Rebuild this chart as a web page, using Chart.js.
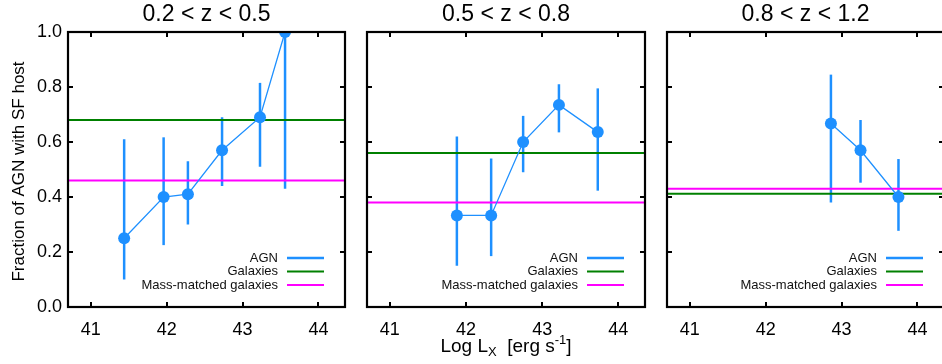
<!DOCTYPE html>
<html>
<head>
<meta charset="utf-8">
<script src="https://cdn.jsdelivr.net/npm/chart.js@4.4.1/dist/chart.umd.min.js"></script>
<style>
  html, body { margin: 0; padding: 0; background: #fff; overflow: hidden; }
  #wrap { position: relative; width: 942px; height: 364px; overflow: hidden; }
  canvas { position: absolute; top: 0; }
</style>
</head>
<body>
<div id="wrap">
  <canvas id="p1"></canvas>
  <canvas id="p2"></canvas>
  <canvas id="p3"></canvas>
</div>
<script>
const panelTitles = ['0.2 < z < 0.5', '0.5 < z < 0.8', '0.8 < z < 1.2'];
const legendLabels = ['AGN', 'Galaxies', 'Mass-matched galaxies'];
const yTitle = 'Fraction of AGN with SF host';
const xTicks = [41, 42, 43, 44];
const yTicks = [0.0, 0.2, 0.4, 0.6, 0.8, 1.0];
const xRange = [40.7, 44.35];
const yRange = [0, 1];

// 0.2 < z < 0.5
const lx1 = [41.44, 41.96, 42.28, 42.73, 43.23, 43.56];
const agn1 = [0.25, 0.40, 0.41, 0.57, 0.69, 1.0];
const lo1 = [0.10, 0.225, 0.30, 0.44, 0.51, 0.43];
const hi1 = [0.61, 0.617, 0.53, 0.69, 0.815, 1.0];
const gal1 = 0.68;
const mass1 = 0.46;

// 0.5 < z < 0.8
const lx2 = [41.88, 42.33, 42.75, 43.22, 43.73];
const agn2 = [0.333, 0.333, 0.60, 0.735, 0.636];
const lo2 = [0.15, 0.185, 0.49, 0.635, 0.423];
const hi2 = [0.62, 0.54, 0.695, 0.81, 0.795];
const gal2 = 0.56;
const mass2 = 0.38;

// 0.8 < z < 1.2
const lx3 = [42.86, 43.25, 43.75];
const agn3 = [0.667, 0.57, 0.40];
const lo3 = [0.38, 0.452, 0.277];
const hi3 = [0.845, 0.68, 0.538];
const gal3 = 0.412;
const mass3 = 0.43;

const agnColor = 'rgb(30,144,255)';
const galColor = 'rgb(0,128,0)';
const massColor = 'rgb(255,0,255)';
const FONT = '"Liberation Sans", Arial, Helvetica, sans-serif';

function panelPlugin(p) {
    return {
        id: 'panel' + p.idx,
        beforeDatasetsDraw(chart) {
            // error bars
            const {ctx, chartArea: a, scales: {x, y}} = chart;
            ctx.save();
            ctx.beginPath();
            ctx.rect(a.left, a.top, a.right - a.left, a.bottom - a.top);
            ctx.clip();
            ctx.strokeStyle = agnColor;
            ctx.lineWidth = 2.5;
            p.lx.forEach((v, i) => {
                const px = x.getPixelForValue(v);
                ctx.beginPath();
                ctx.moveTo(px, y.getPixelForValue(p.lo[i]));
                ctx.lineTo(px, y.getPixelForValue(p.hi[i]));
                ctx.stroke();
            });
            ctx.restore();
        },
        afterDraw(chart) {
            const {ctx, chartArea: a, scales: {x, y}} = chart;
            ctx.save();
            // frame
            ctx.strokeStyle = '#000';
            ctx.lineWidth = 2.2;
            ctx.strokeRect(a.left, a.top, a.right - a.left, a.bottom - a.top);
            // inward ticks on all four sides
            const tl = 5;
            ctx.lineWidth = 2;
            ctx.beginPath();
            xTicks.forEach(v => {
                const px = Math.round(x.getPixelForValue(v));
                ctx.moveTo(px, a.bottom); ctx.lineTo(px, a.bottom - tl);
                ctx.moveTo(px, a.top); ctx.lineTo(px, a.top + tl);
            });
            yTicks.forEach(v => {
                const py = Math.round(y.getPixelForValue(v));
                ctx.moveTo(a.left, py); ctx.lineTo(a.left + tl, py);
                ctx.moveTo(a.right, py); ctx.lineTo(a.right - tl, py);
            });
            ctx.stroke();

            // panel title
            ctx.fillStyle = '#000';
            ctx.font = '23px ' + FONT;
            ctx.textAlign = 'center';
            ctx.textBaseline = 'middle';
            ctx.fillText(p.title, (a.left + a.right) / 2, 15);

            // legend
            const colors = [agnColor, galColor, massColor];
            const widths = [2.5, 2, 2];
            ctx.font = '13px ' + FONT;
            ctx.textAlign = 'right';
            legendLabels.forEach((lab, i) => {
                const ly = a.bottom - 49 + i * 13.5;
                ctx.fillStyle = '#111';
                ctx.fillText(lab, a.right - 67, ly);
                ctx.strokeStyle = colors[i];
                ctx.lineWidth = widths[i];
                ctx.beginPath();
                ctx.moveTo(a.right - 58, ly);
                ctx.lineTo(a.right - 21, ly);
                ctx.stroke();
            });

            // y axis title (first panel)
            if (p.idx === 1) {
                ctx.save();
                ctx.translate(19, (a.top + a.bottom) / 2 + 2);
                ctx.rotate(-Math.PI / 2);
                ctx.font = '17px ' + FONT;
                ctx.textAlign = 'center';
                ctx.fillStyle = '#000';
                ctx.fillText(yTitle, 0, 0);
                ctx.restore();
            }

            // x axis title (middle panel), with subscript and superscript
            if (p.idx === 2) {
                const big = '19px ' + FONT, small = '13px ' + FONT;
                const parts = [
                    ['Log L', big, 0],
                    ['X', small, 5],
                    ['  [erg s', big, 0],
                    ['-1', small, -7],
                    [']', big, 0]
                ];
                let total = 0;
                parts.forEach(pt => { ctx.font = pt[1]; total += ctx.measureText(pt[0]).width; });
                let cx = (a.left + a.right) / 2 - total / 2;
                ctx.textAlign = 'left';
                ctx.fillStyle = '#000';
                parts.forEach(pt => {
                    ctx.font = pt[1];
                    ctx.fillText(pt[0], cx, 347 + pt[2]);
                    cx += ctx.measureText(pt[0]).width;
                });
            }
            ctx.restore();
        }
    };
}

function makePanel(p) {
    const canvas = document.getElementById('p' + p.idx);
    canvas.width = p.width;
    canvas.height = 364;
    canvas.style.left = p.left + 'px';
    canvas.style.width = p.width + 'px';
    canvas.style.height = '364px';

    const pts = p.lx.map((v, i) => ({x: v, y: p.agn[i]}));
    const hline = v => [{x: xRange[0], y: v}, {x: xRange[1], y: v}];

    return new Chart(canvas.getContext('2d'), {
        type: 'line',
        data: {
            datasets: [{
                label: 'AGN',
                data: pts,
                borderColor: agnColor,
                backgroundColor: agnColor,
                borderWidth: 1.3,
                pointRadius: 6,
                pointBorderWidth: 0,
                pointBackgroundColor: agnColor,
                clip: 0,
                order: 0
            }, {
                label: 'Galaxies',
                data: hline(p.gal),
                borderColor: galColor,
                borderWidth: 2,
                pointRadius: 0,
                order: 1
            }, {
                label: 'Mass-matched galaxies',
                data: hline(p.mass),
                borderColor: massColor,
                borderWidth: 2,
                pointRadius: 0,
                order: 1
            }]
        },
        options: {
            responsive: false,
            animation: false,
            events: [],
            layout: { padding: { left: 0, right: p.padR, top: 32, bottom: 0 } },
            scales: {
                x: {
                    type: 'linear',
                    min: xRange[0],
                    max: xRange[1],
                    afterBuildTicks: s => { s.ticks = xTicks.map(v => ({value: v})); },
                    afterFit: s => { s.height = 57; },
                    grid: { display: false, drawTicks: false },
                    border: { display: false },
                    ticks: {
                        color: '#000',
                        padding: 12,
                        font: { family: FONT, size: 18 },
                        callback: v => String(v)
                    }
                },
                y: {
                    type: 'linear',
                    min: yRange[0],
                    max: yRange[1],
                    afterBuildTicks: s => { s.ticks = yTicks.map(v => ({value: v})); },
                    afterFit: s => { s.width = p.yW; },
                    grid: { display: false, drawTicks: false },
                    border: { display: false },
                    ticks: {
                        display: p.idx === 1,
                        color: '#000',
                        padding: 6,
                        font: { family: FONT, size: 18 },
                        callback: v => v.toFixed(1)
                    }
                }
            },
            plugins: {
                legend: { display: false },
                tooltip: { enabled: false }
            }
        },
        plugins: [panelPlugin(p)]
    });
}

document.addEventListener('DOMContentLoaded', () => {
    makePanel({idx: 1, left: 0, width: 355, yW: 68, padR: 10, title: panelTitles[0],
        lx: lx1, agn: agn1, lo: lo1, hi: hi1, gal: gal1, mass: mass1});
    makePanel({idx: 2, left: 355, width: 300, yW: 12, padR: 10, title: panelTitles[1],
        lx: lx2, agn: agn2, lo: lo2, hi: hi2, gal: gal2, mass: mass2});
    makePanel({idx: 3, left: 655, width: 300, yW: 12, padR: 11, title: panelTitles[2],
        lx: lx3, agn: agn3, lo: lo3, hi: hi3, gal: gal3, mass: mass3});
});
</script>
</body>
</html>
